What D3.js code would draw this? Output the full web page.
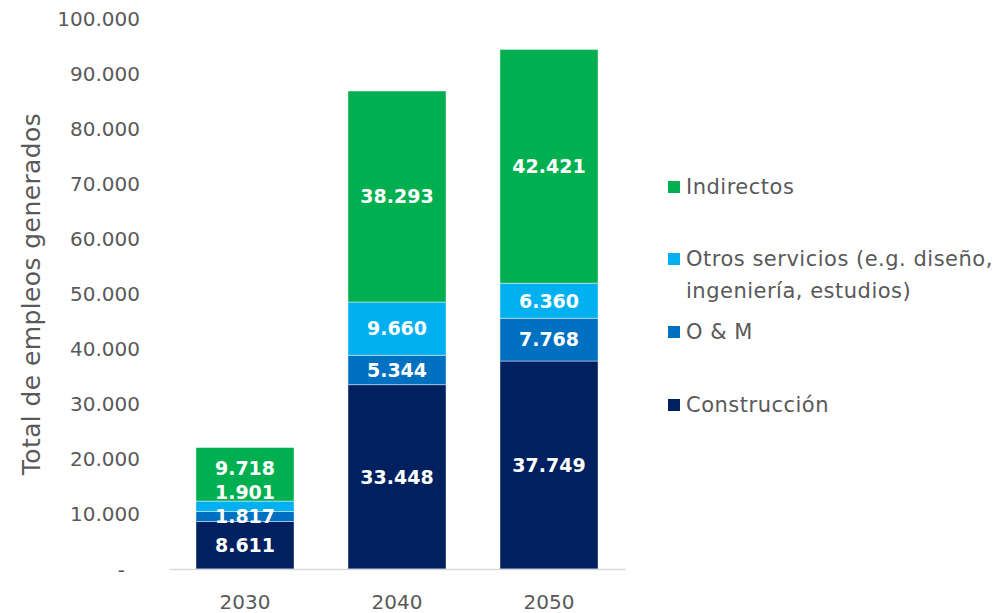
<!DOCTYPE html>
<html>
<head>
<meta charset="utf-8">
<script src="https://cdn.jsdelivr.net/npm/d3@7"></script>
<style>
  html, body { margin: 0; padding: 0; background: #ffffff; }
  svg { display: block; font-family: "DejaVu Sans", "Noto Sans", sans-serif; }
</style>
</head>
<body>
<svg id="chart" width="1003" height="613"></svg>
<script>
// Years on the horizontal axis
const years = ["2030", "2040", "2050"];

// Jobs generated per category (stacked bottom to top)
const construccion = [8611, 33448, 37749];
const oym = [1817, 5344, 7768];
const otrosServicios = [1901, 9660, 6360];
const indirectos = [9718, 38293, 42421];

// Series names as shown in the legend
const seriesNames = ["Construcción", "O & M", "Otros servicios (e.g. diseño, ingeniería, estudios)", "Indirectos"];
const seriesColors = ["#002060", "#0070C0", "#00B0F0", "#00B050"];

// Y axis ticks
const yTicks = [0, 10000, 20000, 30000, 40000, 50000, 60000, 70000, 80000, 90000, 100000];

const svg = d3.select("#chart");
const textGrey = "#595959";

const margin = { left: 169, right: 625, top: 18, bottom: 569 };

const x = d3.scaleBand()
  .domain(years)
  .range([margin.left, margin.right])
  .paddingInner(0.355)
  .paddingOuter(0.1775);

const y = d3.scaleLinear()
  .domain([0, 100000])
  .range([margin.bottom, margin.top]);

// Build stacked table
const seriesValues = [construccion, oym, otrosServicios, indirectos];
const keys = ["c", "o", "s", "i"];
const table = years.map((yr, i) => {
  const row = { year: yr };
  keys.forEach((k, j) => { row[k] = seriesValues[j][i]; });
  return row;
});
const stacked = d3.stack().keys(keys)(table);

const fmt = d3.formatLocale({ decimal: ",", thousands: ".", grouping: [3], currency: ["", "€"] }).format(",.0f");

// Y axis (labels only)
const yAxis = d3.axisLeft(y)
  .tickValues(yTicks)
  .tickSize(0)
  .tickPadding(0)
  .tickFormat(d => d === 0 ? "-" : fmt(d));

const yG = svg.append("g")
  .attr("transform", `translate(140,0)`)
  .call(yAxis);
yG.select(".domain").remove();
yG.selectAll("text")
  .attr("fill", textGrey)
  .attr("font-size", 20)
  .attr("font-family", "DejaVu Sans, sans-serif")
  .attr("dy", "0.35em");
yG.selectAll(".tick").filter(d => d === 0).select("text")
  .attr("dx", "-15");

// Axis title
svg.append("text")
  .attr("transform", `translate(31,294) rotate(-90)`)
  .attr("text-anchor", "middle")
  .attr("dy", "0.35em")
  .attr("fill", textGrey)
  .attr("font-size", 25)
  .attr("letter-spacing", 0.4)
  .text("Total de empleos generados");

// Bars
const layers = svg.append("g")
  .selectAll("g")
  .data(stacked)
  .join("g")
  .attr("fill", (d, i) => seriesColors[i]);

layers.selectAll("rect")
  .data(d => d)
  .join("rect")
  .attr("x", d => x(d.data.year))
  .attr("width", x.bandwidth())
  .attr("y", d => y(d[1]))
  .attr("height", d => y(d[0]) - y(d[1]))
  .attr("stroke", "rgba(255,255,255,0.55)")
  .attr("stroke-width", 0.8);

// X axis baseline and labels
const xAxis = d3.axisBottom(x).tickSize(0).tickPadding(0);
const xG = svg.append("g")
  .attr("transform", `translate(0,${y(0)})`)
  .call(xAxis);
xG.select(".domain").attr("stroke", "#D9D9D9").attr("stroke-width", 1.5);
xG.selectAll("text")
  .attr("fill", textGrey)
  .attr("font-size", 20)
  .attr("font-family", "DejaVu Sans, sans-serif")
  .attr("y", 33)
  .attr("dy", "0.35em");

// Data labels, pushed apart where segments are too thin
const minGap = 24;
years.forEach((yr, i) => {
  const pos = stacked.map(s => ({
    v: s[i][1] - s[i][0],
    cy: (y(s[i][0]) + y(s[i][1])) / 2
  }));
  for (let k = 1; k < pos.length; k++) {
    if (pos[k - 1].cy - pos[k].cy < minGap) pos[k].cy = pos[k - 1].cy - minGap;
  }
  pos.forEach(p => {
    svg.append("text")
      .attr("x", x(yr) + x.bandwidth() / 2)
      .attr("y", p.cy)
      .attr("dy", "0.36em")
      .attr("text-anchor", "middle")
      .attr("fill", "#ffffff")
      .attr("font-weight", "bold")
      .attr("font-size", 19)
      .text(fmt(p.v));
  });
});

// Legend
const legendItems = [
  { i: 3, lines: ["Indirectos"], cy: 187 },
  { i: 2, lines: ["Otros servicios (e.g. diseño,", "ingeniería, estudios)"], cy: 259 },
  { i: 1, lines: ["O & M"], cy: 332 },
  { i: 0, lines: ["Construcción"], cy: 405 }
];
const legend = svg.append("g");
legendItems.forEach(item => {
  legend.append("rect")
    .attr("x", 668)
    .attr("y", item.cy - 6)
    .attr("width", 12)
    .attr("height", 12)
    .attr("fill", seriesColors[item.i]);
  const t = legend.append("text")
    .attr("x", 686)
    .attr("y", item.cy)
    .attr("fill", textGrey)
    .attr("font-size", 21)
    .attr("letter-spacing", 0.5);
  item.lines.forEach((ln, j) => {
    t.append("tspan")
      .attr("x", 686)
      .attr("dy", j === 0 ? "0.35em" : "1.52em")
      .text(ln);
  });
});
</script>
</body>
</html>
